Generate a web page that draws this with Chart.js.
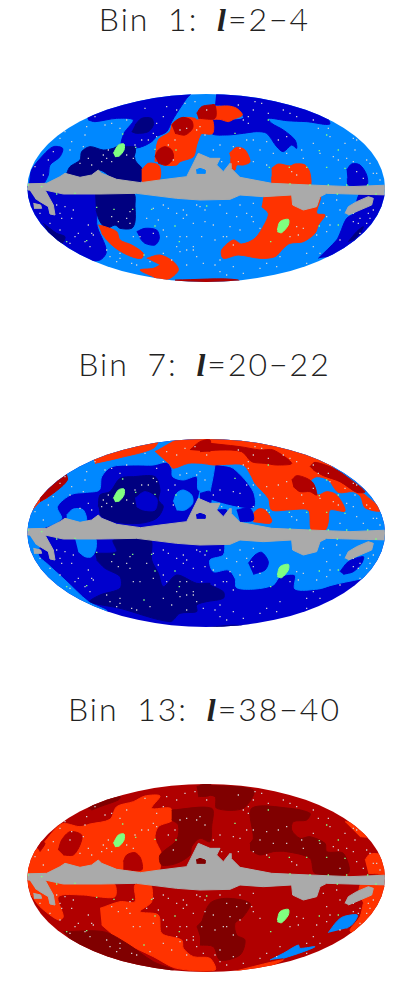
<!DOCTYPE html>
<html>
<head>
<meta charset="utf-8">
<title>Bins</title>
<script src="https://cdn.jsdelivr.net/npm/chart.js@4"></script>
<style>
  body { margin: 0; background: #fff; width: 409px; height: 981px; position: relative; overflow: hidden; }
  canvas { position: absolute; left: 20px; }
  .bin-title {
    position: absolute; left: 0; width: 409px; text-align: center; color: #222;
    font: 300 32px/34px Lato, Roboto, "Liberation Sans", sans-serif; letter-spacing: 2px; word-spacing: 8px; white-space: nowrap;
  }
  .bin-title i { font-family: "Liberation Serif", serif; font-weight: 700; }
</style>
</head>
<body>
<div class="bin-title" style="top:2px">Bin 1: <i>l</i>=2−4</div>
<div class="bin-title" style="top:347px">Bin 7: <i>l</i>=20−22</div>
<div class="bin-title" style="top:692px">Bin 13: <i>l</i>=38−40</div>
<canvas id="bin1" width="370" height="195" style="top:90px"></canvas>
<canvas id="bin7" width="370" height="195" style="top:435px"></canvas>
<canvas id="bin13" width="370" height="195" style="top:780px"></canvas>
<script>
// Level of each patch: 0 navy, 1 blue, 2 light blue, 3 orange, 4 red, 5 maroon
const bin1Levels = [2, 1, 1, 1, 1, 0, 1, 1, 0, 1, 0, 0, 0, 2, 3, 3, 3, 3, 3, 3, 3, 3, 3, 4, 4, 4, 4];
const bin1Outlines = [
  "0,0 1110,0 1110,585 0,585",
  "190,60 520,0 500,25 470,70 455,95 440,125 410,140 395,155 360,172 305,172 312,130 340,90 290,85 225,95 205,90",
  "590,0 840,0 930,100 860,95 800,92 745,85 755,100 790,120 825,150 830,175 815,165 790,185 770,170 740,130 710,125 670,130 620,135 575,130 580,85 635,90 670,85 665,70 640,50 585,45",
  "0,290 25,290 35,240 70,195 100,170 128,175 120,200 90,225 85,255 70,285",
  "0,300 225,310 230,400 235,420 255,465 258,490 240,510 200,510 0,400",
  "70,400 110,430 135,440 125,460 90,440",
  "350,425 375,415 410,420 418,445 405,465 375,460 360,445",
  "895,505 950,450 960,430 980,385 1010,365 1010,335 1020,310 1040,305 1100,320 1080,370 1040,420 980,470 930,500",
  "985,455 1010,425 1030,410 1020,430 1000,450",
  "980,240 995,222 1020,225 1040,255 1040,285 985,285 982,265",
  "345,105 365,85 395,85 400,105 385,125 350,130 335,125",
  "140,250 150,230 180,210 185,185 210,170 250,180 280,175 300,165 320,170 345,172 345,210 365,235 362,275 290,270 240,240 215,255 180,262 150,262",
  "225,310 340,310 345,350 345,395 335,415 300,415 285,405 260,415 240,395 228,360",
  "345,200 355,180 380,170 400,180 405,205 385,225 360,225",
  "405,215 415,150 450,125 458,100 490,83 525,85 530,90 570,85 570,120 545,130 530,165 520,200 480,215 470,225 430,225 420,215",
  "365,240 385,220 415,225 422,245 420,265 410,282 365,282",
  "585,50 625,48 650,55 667,75 640,88 625,95 600,88 580,88",
  "540,85 575,85 578,130 540,130",
  "235,405 255,410 290,425 300,450 335,465 370,490 365,505 335,500 295,480 265,455 245,430",
  "380,505 420,495 460,515 475,540 450,565 420,570 400,560 360,540 400,535 420,525",
  "730,322 815,315 900,315 890,370 915,375 895,405 885,430 850,455 810,460 790,475 765,500 720,505 655,495 610,505 605,480 640,450 665,462 705,445 735,400 745,370 725,350",
  "628,190 650,172 675,180 690,215 670,225 650,225 645,240 635,235 632,205",
  "755,235 775,222 810,228 825,222 855,225 870,250 868,290 760,290 755,260",
  "455,105 470,90 490,82 515,92 518,115 495,135 465,130",
  "405,200 415,180 435,170 455,180 460,205 440,225 415,220",
  "530,70 545,50 570,45 585,45 585,85 535,85",
  "465,570 655,570 650,600 465,600"
];

const bin7Levels = [1, 2, 2, 2, 2, 2, 2, 3, 3, 3, 3, 4, 4, 4, 4, 4, 1, 0, 1, 0, 2, 1, 1, 1, 1, 0, 0];
const bin7Outlines = [
  "0,0 1110,0 1110,585 0,585",
  "0,300 100,268 125,250 112,215 155,178 200,172 238,165 245,125 275,95 340,90 400,90 440,82 455,100 458,125 490,135 530,125 535,165 570,170 570,0 200,0 0,100",
  "540,0 1110,100 1110,310 540,310 540,170 570,195 700,220 700,170 640,100 600,90 540,80",
  "140,240 160,222 190,225 198,260 140,265",
  "460,200 470,175 490,165 515,180 518,205 495,225 470,225",
  "165,310 225,310 228,340 215,365 195,365 175,350",
  "0,300 60,310 55,360 80,385 135,435 205,500 260,530 0,560",
  "405,50 500,5 800,10 1060,200 1080,228 1035,218 1022,185 1000,170 955,172 925,135 890,125 870,140 875,165 895,180 920,170 950,180 975,228 930,225 925,260 915,285 875,285 868,230 855,222 800,225 755,225 745,190 705,145 695,125 670,90 620,88 580,90 545,85 505,85 460,100 450,90",
  "700,235 715,222 735,225 755,255 750,265 700,260",
  "225,85 300,68 400,40 415,10 300,40 220,70",
  "25,240 60,200 85,185 70,170 25,200",
  "60,200 100,175 142,135 130,110 60,170",
  "510,45 540,20 570,15 570,50",
  "540,22 660,35 720,45 760,45 815,85 770,90 735,85 695,80 665,50 600,45 540,50",
  "815,135 830,122 860,130 880,145 890,180 870,170 840,170 820,155",
  "870,95 885,82 940,100 980,125 1035,170 1010,172 960,140 910,122 880,105",
  "650,225 690,220 700,255 660,260",
  "235,215 240,180 270,170 300,130 340,125 405,125 420,165 415,195 430,215 410,250 360,265 290,262 245,245 238,225",
  "345,190 375,170 410,190 405,225 370,225 350,215",
  "225,355 290,350 280,315 390,312 395,375 415,415 430,455 470,420 530,445 570,445 570,450 610,470 610,490 560,500 530,510 530,530 480,535 450,560 300,520 210,500 240,480 300,460 300,425 255,400 230,375",
  "615,320 610,360 570,375 580,410 625,405 645,430 650,458 705,462 760,450 780,425 825,420 825,462 895,462 930,452 1110,400 1110,310",
  "685,385 705,360 725,352 745,380 735,405 700,418",
  "960,410 985,380 1030,365 1025,385 1000,410 970,418",
  "540,175 570,170 570,210 540,215",
  "590,225 620,225 610,245 600,240",
  "660,572 800,558 890,525 890,535 800,570 660,585",
  "540,580 660,572 660,600 540,600"
];

const bin13Levels = [4, 3, 4, 4, 4, 3, 3, 5, 5, 5, 5, 5, 5, 5, 5, 3, 3, 3, 2, 2, 3];
const bin13Outlines = [
  "0,0 1110,0 1110,585 0,585",
  "0,290 35,225 70,190 125,132 180,140 210,132 270,118 290,80 340,65 375,48 420,48 395,85 452,85 458,120 415,140 405,175 425,225 415,290",
  "115,210 125,180 150,155 185,165 180,195 160,225 130,225",
  "50,200 60,185 75,190 60,215",
  "310,245 320,225 345,218 362,235 365,270 310,268",
  "240,385 300,365 345,365 345,315 390,310 395,365 360,395 415,405 425,460 485,480 490,505 520,530 570,535 585,570 470,565 400,530 300,480 245,435",
  "20,300 280,310 285,350 230,350 190,345 115,350 130,410 115,420 60,380 30,340",
  "205,85 235,65 300,50 295,60 240,80 215,90",
  "455,90 575,85 575,140 570,185 540,175 515,200 510,225 470,250 425,255 420,225 470,180 475,135 455,120",
  "530,20 570,10 570,45 535,50",
  "540,15 700,30 670,85 590,85 585,50 540,45",
  "690,190 700,175 695,85 810,85 870,100 860,120 820,125 815,150 840,175 870,170 915,190 920,215 970,220 985,280 885,280 870,235 800,215 760,215 720,225 690,210",
  "540,440 570,370 620,355 690,370 670,410 645,430 650,465 675,480 660,525 600,540 580,500 540,495",
  "130,455 250,455 320,490 400,545 460,570 300,560 170,500",
  "530,440 570,405 570,495 540,470",
  "975,125 1000,130 1045,170 1020,170",
  "1035,240 1050,222 1080,225 1110,280 1045,280",
  "1015,340 1025,310 1095,320 1090,370 1050,420 1000,460 990,450 1020,410 1030,370",
  "925,458 950,425 970,410 1012,405 1000,430 980,445",
  "750,540 790,520 835,495 840,505 885,500 850,515 790,535",
  "640,575 760,545 790,540 700,580"
];

// Masked plane and point sources, the same on all three maps
const maskOutlines = [
  "0,282 80,280 120,260 135,250 180,262 215,255 235,240 245,250 290,268 362,278 420,270 500,260 525,210 535,190 570,205 600,205 590,225 610,245 630,220 633,235 660,262 755,280 870,285 990,290 1110,285 1110,315 990,312 920,310 900,320 890,350 850,360 818,345 815,315 730,320 660,315 630,328 540,330 470,325 350,310 240,312 130,312 75,300 0,300",
  "25,295 75,300 100,345 105,375 90,372 85,350 60,335 45,325",
  "40,340 62,345 65,355 42,355",
  "975,370 985,350 1010,335 1045,320 1060,325 1055,345 1020,360 985,375"
];
const holeOutline = "528,240 540,235 555,240 555,250 530,250";
const holeLevels = [2, 1, 5];
const greenSpots = [
  "280,190 295,165 312,162 312,180 298,198 285,200",
  "772,420 780,395 805,388 805,405 785,428 772,425"
];
const sourcesX = [135,155,195,100,150,180,205,215,245,260,250,265,275,340,320,225,275,320,375,440,495,400,410,385,345,365,480,500,445,465,460,540,555,530,110,135,155,125,205,215,220,165,195,210,260,300,290,335,350,390,430,480,500,520,550,490,500,445,470,430,490,275,330,295,330,320,340,360,400,530,555,685,670,685,725,705,655,745,810,880,895,925,930,880,845,800,775,740,700,660,600,580,605,655,700,740,815,830,900,955,980,1005,1040,1050,1060,1030,1010,960,600,620,650,680,695,700,720,630,580,585,620,640,585,600,620,670,720,770,860,880,890,920,930,920,1000,1020,1040,1020,1060,1000,850,830,810,835,
  440,470,520,545,500,520,555,430,415,380,400,480,540,455,500,530,270,300,150,175,120,160,90,120,60,300,255,200,120,85,70,45,190,410,430,470,525,560,700,760,790,830,900,960,1000,1010,1000,975,940,850,800,760,720,680,640,590,1070,1080,950,960,910,960,900,860,780,740,640,600,610,660,660,700,1040,1015,1045,1050];
const sourcesY = [125,155,135,185,180,220,205,225,215,205,195,180,215,205,195,80,100,90,55,50,40,130,140,150,165,150,120,115,165,150,210,110,135,120,345,350,385,385,405,430,435,440,455,470,480,505,515,520,525,515,490,485,480,480,520,385,375,355,370,420,360,380,365,395,400,385,440,440,430,345,360,80,90,100,40,35,45,70,70,90,115,115,140,160,180,140,150,155,150,175,165,180,215,215,215,225,245,255,190,210,205,180,210,220,250,265,245,265,345,370,380,370,380,395,415,410,405,450,440,465,525,545,555,550,535,530,520,470,435,425,405,380,395,385,400,430,360,370,415,410,440,435,
  440,470,470,440,440,400,395,345,390,385,355,440,350,510,525,500,500,490,460,430,370,360,400,420,370,115,105,110,145,210,255,230,170,100,80,60,35,60,60,30,60,80,70,100,145,150,215,160,200,205,190,190,180,150,170,250,250,270,330,360,340,450,490,490,500,520,530,510,440,420,345,340,345,400,370,385];
const plateX = [25,65,165,110,282,338,395,405,465,478,200,372,308,468,405,347,230,140,645,920,898,955,920,860,808,748,980,925,870,1043,952,955,898,752,560,745,975,1068,810];
const plateY = [285,290,310,312,358,358,358,408,408,455,452,495,132,180,178,172,352,455,130,135,182,180,232,232,232,232,285,285,285,285,312,405,408,455,348,90,235,312,282];

const levelColors = ["#000080", "#0000cd", "#0088ff", "#ff3300", "#b00000", "#800000"];
const maskColor = "#aaaaaa";
const greenColor = "#80ff80";
const sourceColor = "#d4d4d4";

function parseOutline(text) {
  return text.split(" ").map(function (pair) {
    const parts = pair.split(",");
    return { x: Number(parts[0]), y: Number(parts[1]) };
  });
}

function patchDataset(outline, color, tension) {
  return {
    data: parseOutline(outline),
    showLine: true,
    fill: "shape",
    tension: tension,
    backgroundColor: color,
    borderColor: color,
    borderWidth: 1,
    pointRadius: 0,
  };
}

function pointDataset(xs, ys, color, radius) {
  return {
    data: xs.map((x, i) => ({ x: x, y: ys[i] })),
    backgroundColor: color,
    borderWidth: 0,
    pointStyle: "rect",
    pointRadius: radius,
  };
}

// Trim everything to the map's oval
const ovalClip = {
  id: "ovalClip",
  beforeDatasetsDraw(chart) {
    const xs = chart.scales.x;
    const ys = chart.scales.y;
    const left = xs.getPixelForValue(22);
    const right = xs.getPixelForValue(1095);
    const top = ys.getPixelForValue(12);
    const bottom = ys.getPixelForValue(576);
    chart.ctx.save();
    chart.ctx.beginPath();
    chart.ctx.ellipse((left + right) / 2, (top + bottom) / 2, (right - left) / 2, (bottom - top) / 2, 0, 0, Math.PI * 2);
    chart.ctx.clip();
  },
  afterDatasetsDraw(chart) {
    chart.ctx.restore();
  },
};

function drawBin(id, levels, outlines, holeLevel) {
  const datasets = outlines.map((o, i) => patchDataset(o, levelColors[levels[i]], i === 0 ? 0 : 0.3));
  datasets.push(pointDataset(sourcesX, sourcesY, sourceColor, 0.9));
  maskOutlines.forEach((o) => datasets.push(patchDataset(o, maskColor, 0)));
  datasets.push(patchDataset(holeOutline, levelColors[holeLevel], 0));
  greenSpots.forEach((o) => datasets.push(patchDataset(o, greenColor, 0.3)));
  datasets.push(pointDataset(plateX, plateY, greenColor, 1));
  // later entries paint on top
  datasets.forEach((d, i) => { d.order = datasets.length - i; });

  new Chart(document.getElementById(id), {
    type: "scatter",
    data: { datasets: datasets },
    plugins: [ovalClip],
    options: {
      responsive: false,
      animation: false,
      layout: { padding: 0, autoPadding: false },
      plugins: { legend: { display: false }, tooltip: { enabled: false } },
      scales: {
        x: { type: "linear", display: false, min: 0, max: 1110 },
        y: { type: "linear", display: false, min: 0, max: 585, reverse: true },
      },
    },
  });
}

drawBin("bin1", bin1Levels, bin1Outlines, holeLevels[0]);
drawBin("bin7", bin7Levels, bin7Outlines, holeLevels[1]);
drawBin("bin13", bin13Levels, bin13Outlines, holeLevels[2]);
</script>
</body>
</html>
